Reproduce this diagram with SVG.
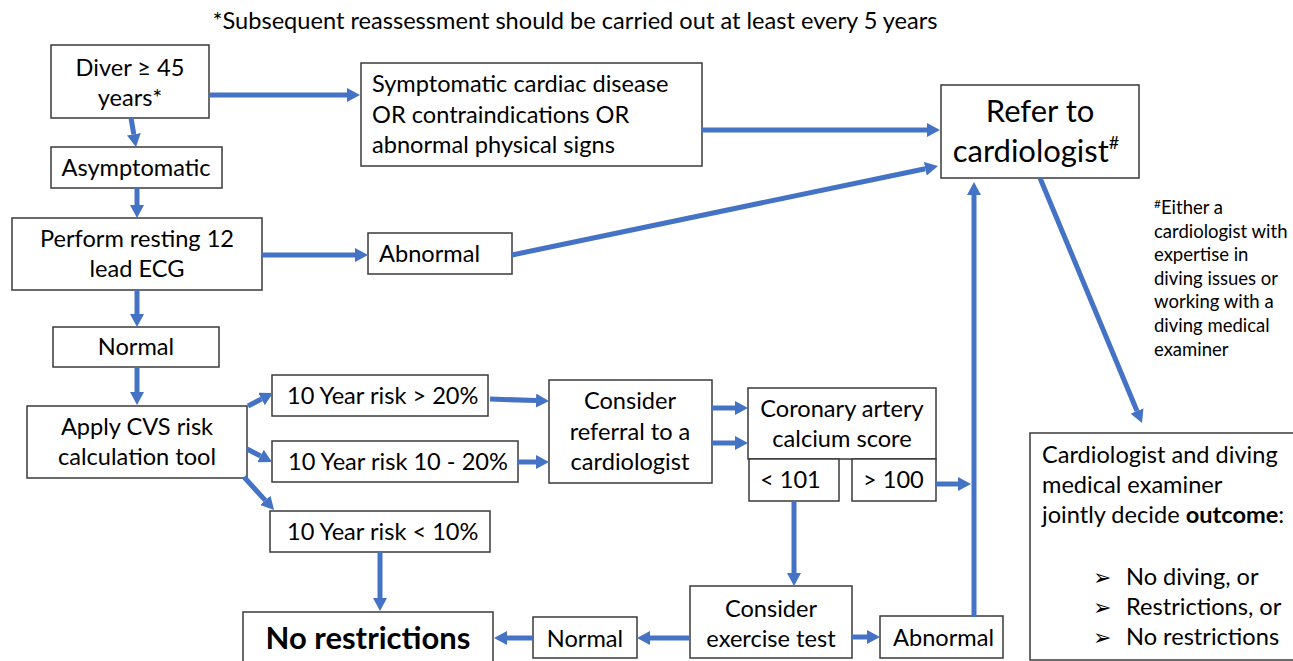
<svg xmlns="http://www.w3.org/2000/svg" width="1293" height="661" viewBox="0 0 1293 661">
<style>
.b{fill:#fff;stroke:#3a3a3a;stroke-width:1.5}
.t{font-family:Lato,"Liberation Sans",sans-serif;font-size:23.6px;fill:#000}
.c{text-anchor:middle}
.big{font-size:31px}
.fn{font-size:18.5px}
.bul{font-family:"DejaVu Sans",sans-serif;font-size:22px}
.con path{fill:none;stroke:#4472C4;stroke-width:5;marker-end:url(#ah)}
</style>
<defs>
<marker id="ah" viewBox="0 0 13 14" markerUnits="userSpaceOnUse" markerWidth="13" markerHeight="14" refX="0" refY="7" orient="auto"><path d="M0,0 L13,7 L0,14 z" fill="#4472C4"/></marker>
</defs>
<rect width="1293" height="661" fill="#fff"/>
<text class="t" x="575" y="29" text-anchor="middle" font-size="24.6">*Subsequent reassessment should be carried out at least every 5 years</text>

<g id="diver"><rect class="b" x="51" y="45" width="158" height="73"/><text class="t c" x="130" y="76">Diver ≥ 45</text><text class="t c" x="130" y="106">years*</text></g>
<g id="asym"><rect class="b" x="51" y="147" width="171" height="41"/><text class="t c" x="136" y="176">Asymptomatic</text></g>
<g id="ecg"><rect class="b" x="12" y="218" width="250" height="72"/><text class="t c" x="137" y="247">Perform resting 12</text><text class="t c" x="137" y="277">lead ECG</text></g>
<g id="symp"><rect class="b" x="361" y="63" width="341" height="103"/><text class="t" x="372" y="92">Symptomatic cardiac disease</text><text class="t" x="372" y="123">OR contraindications OR</text><text class="t" x="372" y="153">abnormal physical signs</text></g>
<g id="abn1"><rect class="b" x="368" y="233" width="144" height="41"/><text class="t" x="379" y="262">Abnormal</text></g>
<g id="refer"><rect class="b" x="941" y="85" width="198" height="93"/><text class="t c big" x="1040" y="122">Refer to</text><text class="t c big" x="1036" y="162">cardiologist<tspan font-size="18" dy="-13">#</tspan></text></g>
<g id="footnote"><text class="t fn" x="1154" y="214"><tspan font-size="12" dy="-6">#</tspan><tspan dy="6">Either a</tspan></text><text class="t fn" x="1154" y="238">cardiologist with</text><text class="t fn" x="1154" y="261">expertise in</text><text class="t fn" x="1154" y="285">diving issues or</text><text class="t fn" x="1154" y="308">working with a</text><text class="t fn" x="1154" y="332">diving medical</text><text class="t fn" x="1154" y="356">examiner</text></g>
<g id="normal1"><rect class="b" x="53" y="327" width="166" height="40"/><text class="t c" x="136" y="355">Normal</text></g>
<g id="apply"><rect class="b" x="27" y="406" width="220" height="72"/><text class="t c" x="137" y="435">Apply CVS risk</text><text class="t c" x="137" y="465">calculation tool</text></g>
<g id="r20"><rect class="b" x="272" y="375" width="216" height="41"/><text class="t" x="287" y="404">10 Year risk &gt; 20%</text></g>
<g id="r1020"><rect class="b" x="272" y="441" width="246" height="41"/><text class="t" x="288" y="470">10 Year risk 10 - 20%</text></g>
<g id="r10"><rect class="b" x="270" y="511" width="220" height="41"/><text class="t" x="287" y="540">10 Year risk &lt; 10%</text></g>
<g id="norestr"><rect class="b" x="243" y="612" width="250" height="52"/><text class="t c big" x="368" y="649" font-weight="bold" font-size="31.5">No restrictions</text></g>
<g id="referral"><rect class="b" x="549" y="380" width="163" height="103"/><text class="t c" x="630" y="409">Consider</text><text class="t c" x="630" y="440">referral to a</text><text class="t c" x="630" y="470">cardiologist</text></g>
<g id="cac"><rect class="b" x="748" y="388" width="188" height="71"/><text class="t c" x="842" y="417">Coronary artery</text><text class="t c" x="842" y="447">calcium score</text></g>
<g id="lt101"><rect class="b" x="749" y="459" width="90" height="42"/><text class="t" x="760" y="488">&lt; 101</text></g>
<g id="gt100"><rect class="b" x="852" y="459" width="84" height="42"/><text class="t" x="863" y="488">&gt; 100</text></g>
<g id="exercise"><rect class="b" x="690" y="586" width="162" height="72"/><text class="t c" x="771" y="617">Consider</text><text class="t c" x="771" y="647">exercise test</text></g>
<g id="normal2"><rect class="b" x="533" y="617" width="104" height="41"/><text class="t c" x="585" y="647">Normal</text></g>
<g id="abn2"><rect class="b" x="880" y="616" width="123" height="42"/><text class="t" x="893" y="646">Abnormal</text></g>
<g id="outcome"><rect class="b" x="1030" y="433" width="270" height="227"/><text class="t" x="1042" y="463">Cardiologist and diving</text><text class="t" x="1042" y="493">medical examiner</text><text class="t" x="1042" y="523">jointly decide <tspan font-weight="bold">outcome</tspan>:</text>
<text class="bul" x="1093" y="585">➢</text><text class="t" x="1126" y="585">No diving, or</text>
<text class="bul" x="1093" y="615">➢</text><text class="t" x="1126" y="615">Restrictions, or</text>
<text class="bul" x="1093" y="645">➢</text><text class="t" x="1126" y="645">No restrictions</text></g>

<g id="connectors" class="con">
<path d="M131,118 L133.8,134.2"/>
<path d="M137,188 L137,205"/>
<path d="M209,95 L347,95"/>
<path d="M702,130 L927,130"/>
<path d="M262,255 L355,255"/>
<path d="M512,255 L925.3,168.7"/>
<path d="M1040,178 L1137,411"/>
<path d="M974,617 L974,195"/>
<path d="M936,484 L958,484"/>
<path d="M137,290 L137,314"/>
<path d="M137,367 L137,392"/>
<path d="M248,406 L261.5,399"/>
<path d="M247,449 L260.5,456"/>
<path d="M244,477 L265.3,500.4"/>
<path d="M380,552 L380,598"/>
<path d="M490,399 L536,400.6"/>
<path d="M518,462 L536,462"/>
<path d="M712,408 L735,408"/>
<path d="M712,443 L735,443"/>
<path d="M794,501 L794,573"/>
<path d="M690,638 L650,638"/>
<path d="M533,638 L507,638"/>
<path d="M852,637 L867,637"/>
</g>
</svg>
